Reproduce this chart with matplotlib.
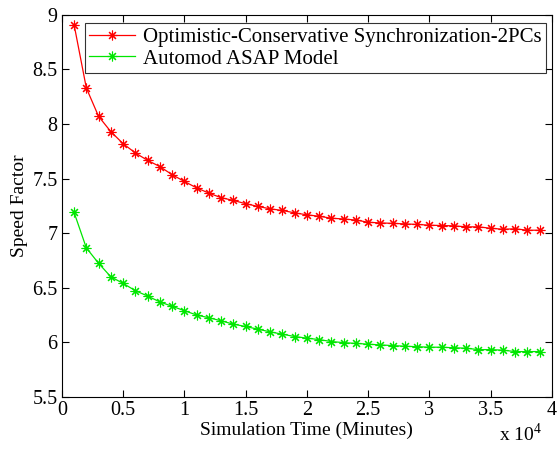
import matplotlib
matplotlib.use("Agg")
import matplotlib.pyplot as plt
import numpy as np

plt.rcParams["font.family"] = ["Liberation Serif", "DejaVu Serif"]
plt.rcParams["mathtext.fontset"] = "custom"
plt.rcParams["mathtext.rm"] = "Liberation Serif"

sim_time = np.arange(1000, 40000, 1000)

optimistic_2pcs = [8.91, 8.33, 8.07, 7.93, 7.82, 7.735, 7.667, 7.61, 7.536, 7.474,
                   7.415, 7.367, 7.325, 7.30, 7.27, 7.245, 7.223, 7.208, 7.186, 7.168,
                   7.155, 7.137, 7.13, 7.12, 7.10, 7.094, 7.09, 7.085, 7.08, 7.073,
                   7.07, 7.067, 7.058, 7.058, 7.045, 7.036, 7.04, 7.027, 7.027]

automod_asap = [7.19, 6.865, 6.724, 6.60, 6.54, 6.473, 6.424, 6.37, 6.33, 6.29,
                6.25, 6.225, 6.197, 6.166, 6.145, 6.12, 6.096, 6.074, 6.053, 6.038,
                6.025, 6.007, 5.997, 5.99, 5.983, 5.976, 5.97, 5.964, 5.96, 5.955,
                5.955, 5.95, 5.946, 5.933, 5.933, 5.928, 5.915, 5.915, 5.915]

xticks = np.arange(0, 40001, 5000)
xtick_labels = ["0", "0.5", "1", "1.5", "2", "2.5", "3", "3.5", "4"]
yticks = np.arange(5.5, 9.01, 0.5)
ytick_labels = ["5.5", "6", "6.5", "7", "7.5", "8", "8.5", "9"]

# matlab style '*' marker: 8-armed asterisk
star = (8, 2, 0)

fig = plt.figure(figsize=(5.57, 4.51), dpi=100)
ax = fig.add_axes([0.111, 0.12, 0.88, 0.847])

ax.plot(sim_time, optimistic_2pcs, color="red", marker=star, markersize=7,
        markeredgewidth=0.8, linewidth=0.9,
        label="Optimistic-Conservative Synchronization-2PCs")
ax.plot(sim_time, automod_asap, color="#00e600", marker=star, markersize=7,
        markeredgewidth=0.8, linewidth=0.9, label="Automod ASAP Model")

ax.set_xlim(0, 40000)
ax.set_ylim(5.5, 9)
ax.set_xticks(xticks)
ax.set_xticklabels(xtick_labels)
ax.set_yticks(yticks)
ax.set_yticklabels(ytick_labels)
ax.tick_params(direction="in", top=True, right=True, labelsize=14.5, length=5, pad=3)
for s in ax.spines.values():
    s.set_linewidth(0.8)

ax.set_xlabel("Simulation Time (Minutes)", fontsize=14, labelpad=1)
ax.set_ylabel("Speed Factor", fontsize=14, labelpad=3)
ax.text(0.98, -0.125, r"x 10$^4$", transform=ax.transAxes, ha="right", va="bottom", fontsize=14)

leg = ax.legend(loc="upper right", fontsize=15, frameon=True, fancybox=False,
                edgecolor="black", borderpad=0.2, handlelength=2.2, handletextpad=0.4,
                labelspacing=0.1, borderaxespad=0, bbox_to_anchor=(0.988, 0.978))
leg.get_frame().set_linewidth(0.8)

fig.savefig("out.png", dpi=100)
plt.close(fig)
